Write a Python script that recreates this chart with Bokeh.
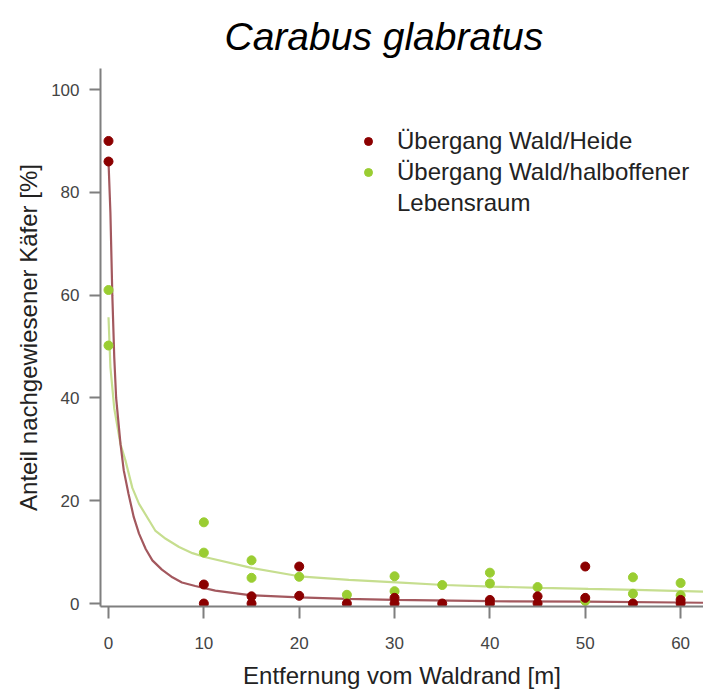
from bokeh.plotting import figure
from bokeh.models import Legend, LegendItem, Range1d, FixedTicker
from bokeh.embed import file_html
from bokeh.resources import INLINE

# ---- data ----
heide_x = [0, 0, 10, 10, 15, 15, 20, 20, 25, 30, 30, 35, 40, 40, 45, 45, 50, 50, 55, 60, 60]
heide_y = [90, 86, 3.7, 0, 1.4, 0, 7.2, 1.5, 0, 1.1, 0, 0, 0.7, 0, 1.4, 0, 7.2, 1.1, 0, 0.7, 0]

halb_x = [0, 0, 10, 10, 15, 15, 20, 25, 30, 30, 35, 40, 40, 45, 50, 55, 55, 60, 60]
halb_y = [61, 50.2, 15.8, 9.9, 8.4, 5.0, 5.2, 1.7, 5.3, 2.4, 3.6, 6.0, 3.9, 3.2, 0.5, 5.1, 1.9, 4.0, 1.6]

# fitted curves
heide_fit_x = [0, 0.2, 0.4, 0.6, 0.8, 1.26, 1.6, 2.1, 2.65, 3.2, 3.9, 4.6, 5.6, 6.7, 7.7, 9.1,
               11.2, 15, 20, 25, 30, 40, 50, 62.4]
heide_fit_y = [86, 76, 60, 48, 40, 31, 25.9, 21.3, 16.8, 13.6, 10.6, 8.4, 6.6, 5.1, 4.1, 3.4,
               2.5, 1.6, 1.2, 0.9, 0.7, 0.45, 0.35, 0.15]

halb_fit_x = [0, 0.2, 0.6, 1.26, 1.78, 2.5, 3.2, 4.9, 6.0, 7.4, 8.8, 10.2, 15.1, 20, 25.2, 30.2,
              35.2, 40.2, 45.3, 50.3, 55.3, 62.4]
halb_fit_y = [55.7, 46, 38, 31, 27.8, 22.5, 19.4, 14.2, 12.6, 11.0, 9.8, 9.0, 6.9, 5.3, 4.6, 4.1,
              3.6, 3.3, 3.05, 2.85, 2.66, 2.3]

x_ticks = [0, 10, 20, 30, 40, 50, 60]
y_ticks = [0, 20, 40, 60, 80, 100]

title_text = "Carabus glabratus"
x_label = "Entfernung vom Waldrand [m]"
y_label = "Anteil nachgewiesener Käfer [%]"
label_heide = "Übergang Wald/Heide"
label_halb_1 = "Übergang Wald/halboffener"
label_halb_2 = "Lebensraum"

RED = "#8B0000"
GREEN = "#9ACD32"
FONT = "Liberation Sans"

p = figure(width=703, height=692, output_backend="svg", toolbar_location=None,
           x_range=Range1d(-0.84, 62.4), y_range=Range1d(-0.58, 104.1),
           min_border_left=100, min_border_right=0, min_border_top=68, min_border_bottom=86)

p.title.text = title_text
p.title.text_font = FONT
p.title.text_font_style = "italic"
p.title.text_font_size = "39px"
p.title.text_color = "black"
p.title.text_line_height = 0.8
p.title.align = "left"
p.title.offset = 124
p.title.standoff = 22

p.grid.visible = False
p.outline_line_color = None
p.background_fill_color = "white"

for ax in (p.xaxis[0], p.yaxis[0]):
    ax.axis_line_color = "#7f7f7f"
    ax.axis_line_width = 2
    ax.major_tick_line_color = "#7f7f7f"
    ax.major_tick_line_width = 2
    ax.major_tick_in = 0
    ax.minor_tick_line_color = None
    ax.major_label_text_font = FONT
    ax.major_label_text_font_size = "17px"
    ax.major_label_text_color = "#444444"
    ax.axis_label_text_font = FONT
    ax.axis_label_text_font_size = "24px"
    ax.axis_label_text_font_style = "normal"
    ax.axis_label_text_color = "#222222"

p.xaxis[0].ticker = FixedTicker(ticks=x_ticks)
p.yaxis[0].ticker = FixedTicker(ticks=y_ticks)
p.xaxis[0].major_tick_out = 12
p.yaxis[0].major_tick_out = 11
p.xaxis[0].major_label_standoff = 18
p.yaxis[0].major_label_standoff = 10
p.xaxis[0].axis_label_standoff = 10
p.yaxis[0].axis_label_standoff = 6
p.xaxis[0].axis_label = x_label
p.yaxis[0].axis_label = y_label

# curves
p.line(halb_fit_x, halb_fit_y, line_color="#C6DE8F", line_width=2.2)
p.line(heide_fit_x, heide_fit_y, line_color="#A3585E", line_width=2.2)

# points
r_halb = p.scatter(halb_x, halb_y, size=9, fill_color=GREEN, line_color=GREEN)
r_heide = p.scatter(heide_x, heide_y, size=9, fill_color=RED, line_color=RED)
# invisible renderer used only for the continuation line of the legend
r_blank = p.scatter(x=[], y=[], size=0, fill_alpha=0, line_alpha=0)

legend = Legend(items=[LegendItem(label=label_heide, renderers=[r_heide]),
                       LegendItem(label=label_halb_1, renderers=[r_halb]),
                       LegendItem(label=label_halb_2, renderers=[r_blank])],
                location=(258, 389), padding=0, margin=0, spacing=3,
                border_line_color=None, background_fill_alpha=0,
                glyph_width=20, glyph_height=20, label_standoff=19,
                label_text_font=FONT, label_text_font_size="24px",
                label_text_color="#222222")
p.add_layout(legend, "center")

open("out.html", "w").write(file_html(p, INLINE))
